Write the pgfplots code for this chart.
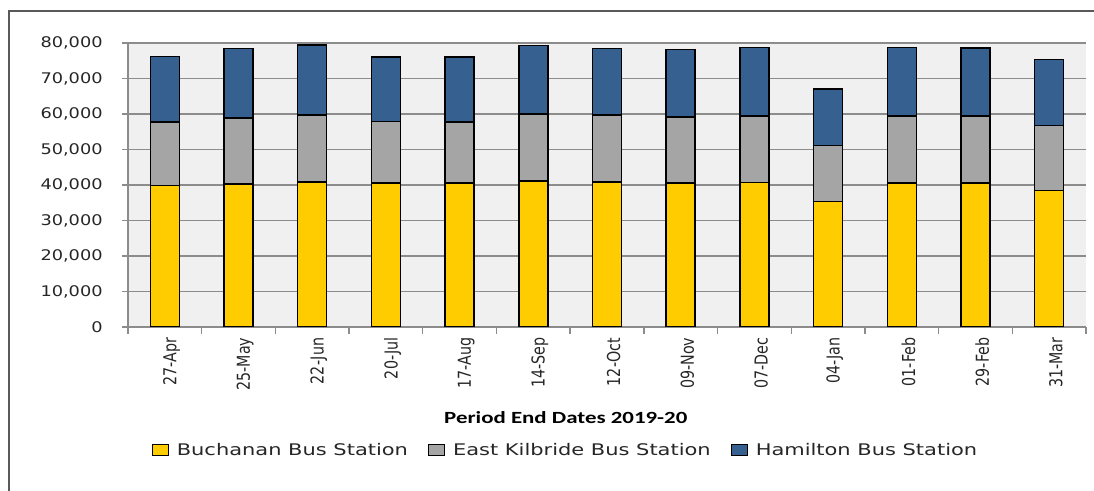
\documentclass[border=0pt]{standalone}
\usepackage{fontspec}
\setmainfont{DejaVu Sans}
\usepackage{pgfplots}
\pgfplotsset{compat=1.18}
\newfontfamily\tickfont{DejaVu Sans}[FakeStretch=1.21]
\newfontfamily\xtickfont{DejaVu Sans}
\newfontfamily\legfont{DejaVu Sans}[FakeStretch=1.31]
\newfontfamily\titlefont{Carlito}[FakeStretch=1.34]
\newcommand\sq[1]{\scalebox{1}[1.25]{#1}}
\definecolor{cYel}{HTML}{FFCC00}
\definecolor{cGry}{HTML}{A5A5A5}
\definecolor{cBlu}{HTML}{35608F}
\definecolor{gridc}{HTML}{8C8C8C}
\definecolor{bgc}{HTML}{F0F0F0}
\definecolor{framec}{HTML}{595959}
\definecolor{txt}{HTML}{262626}
\begin{document}
\begin{tikzpicture}[x=0.75pt,y=0.75pt]
\path[use as bounding box] (-128,-164) rectangle (966,327);
\draw[framec, line width=1.1pt] (-119,-175) -- (-119,316) -- (980,316);
\begin{axis}[at={(0,0)}, anchor=south west,
  width=718.5pt, height=213pt, scale only axis,
  ybar stacked, bar width=21.75pt,
  xmin=-0.5, xmax=12.5, ymin=0, ymax=80000,
  axis x line*=bottom, axis y line*=left,
  axis line style={gridc, line width=1pt},
  axis background/.style={fill=bgc},
  ymajorgrids, grid style={gridc, line width=1.2pt},
  ytick={0,10000,...,80000},
  scaled y ticks=false,
  /pgf/number format/1000 sep={,},
  /pgf/number format/assume math mode=true,
  y tick label style={font=\tickfont\fontsize{11}{13}\selectfont, color=txt, anchor=east, xshift=-11pt},
  xtick={0,...,12},
  xticklabels={\sq{27-Apr},\sq{25-May},\sq{22-Jun},\sq{20-Jul},\sq{17-Aug},\sq{14-Sep},\sq{12-Oct},\sq{09-Nov},\sq{07-Dec},\sq{04-Jan},\sq{01-Feb},\sq{29-Feb},\sq{31-Mar}},
  x tick label style={font=\xtickfont\fontsize{10.7}{12}\selectfont, color=txt, rotate=90, anchor=east, yshift=-5pt},
  minor xtick={-0.5,0.5,...,12.5},
  tick align=outside,
  major tick length=4.5pt, minor tick length=5.25pt,
  tick style={gridc, line width=1pt},
  major x tick style={draw=none},
  xlabel={Period End Dates 2019-20},
  xlabel style={at={(axis description cs:0.457,-0.32)}, anchor=center, font=\titlefont\bfseries\fontsize{12.8}{15}\selectfont, color=black},
  legend style={at={(0.457,-0.433)}, anchor=center, legend columns=3, draw=none, fill=none,
    font=\legfont\fontsize{12}{14}\selectfont, text=txt,
    /tikz/every even column/.append style={column sep=13pt},
    /tikz/every odd column/.append style={column sep=4pt}},
  legend image code/.code={\draw[#1, draw=black, line width=0.8pt] (0pt,-4.1pt) rectangle (12pt,4.1pt);},
  every axis plot/.append style={draw=black, line width=1.1pt},
]
\addplot[fill=cYel] coordinates {(0,39800) (1,40300) (2,40900) (3,40600) (4,40500) (5,41100) (6,40900) (7,40500) (8,40700) (9,35300) (10,40600) (11,40600) (12,38400)};
\addplot[fill=cGry] coordinates {(0,17900) (1,18600) (2,18800) (3,17300) (4,17200) (5,18900) (6,18800) (7,18600) (8,18800) (9,15800) (10,18900) (11,18900) (12,18300)};
\addplot[fill=cBlu] coordinates {(0,18550) (1,19500) (2,19800) (3,18200) (4,18300) (5,19300) (6,18800) (7,19000) (8,19300) (9,16000) (10,19300) (11,19100) (12,18600)};
\legend{Buchanan Bus Station, East Kilbride Bus Station, Hamilton Bus Station}
\end{axis}
\end{tikzpicture}
\end{document}
